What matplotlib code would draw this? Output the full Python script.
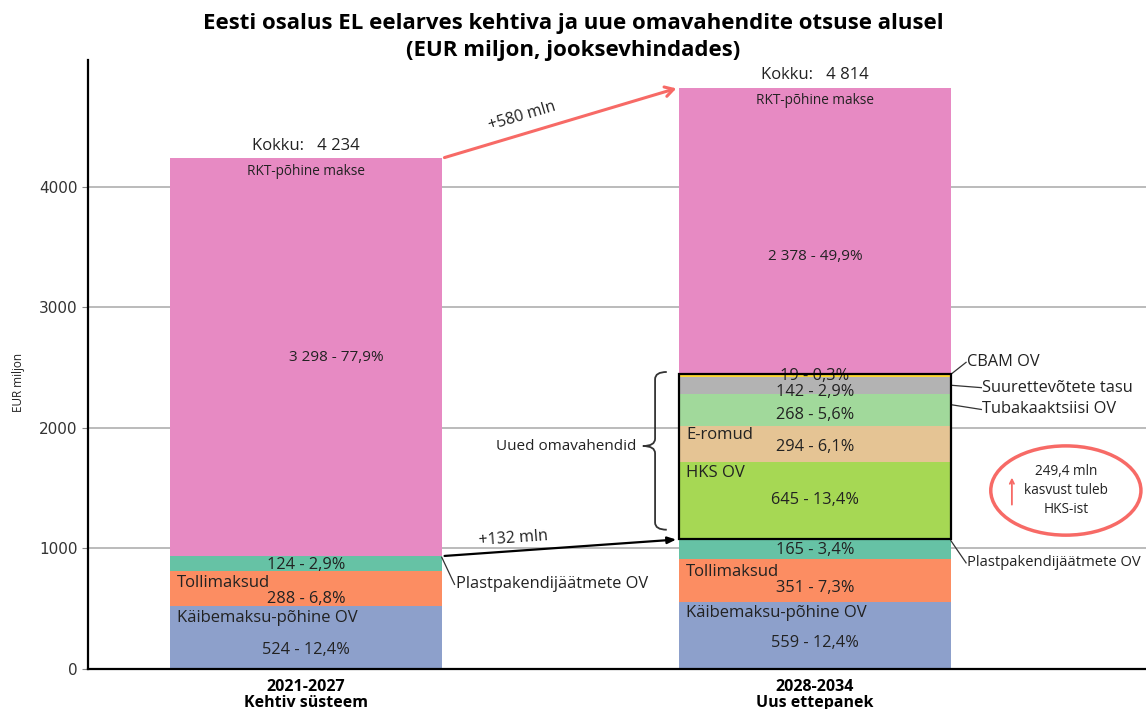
import math
import matplotlib
matplotlib.use("Agg")
import matplotlib.pyplot as plt
from matplotlib.patches import Rectangle, Ellipse, PathPatch
from matplotlib.path import Path

plt.rcParams['font.family'] = ['Open Sans', 'DejaVu Sans']

periods = ["2021-2027\nKehtiv süsteem", "2028-2034\nUus ettepanek"]
totals = [4234, 4814]

# segments bottom -> top
vat = [524, 559]
customs = [288, 351]
plastic = [124, 165]
ets = [0, 645]
ewaste = [0, 294]
tobacco = [0, 268]
corporate = [0, 142]
cbam = [0, 19]
gni = [3298, 2378]

vat_pct = [12.4, 12.4]
customs_pct = [6.8, 7.3]
plastic_pct = [2.9, 3.4]
ets_pct = [0, 13.4]
ewaste_pct = [0, 6.1]
tobacco_pct = [0, 5.6]
corporate_pct = [0, 2.9]
cbam_pct = [0, 0.3]
gni_pct = [77.9, 49.9]

growth_total = 580
growth_base = 132
ets_growth = 249.4

series = [
    ("Käibemaksu-põhine OV", vat, vat_pct, "#8da0cb"),
    ("Tollimaksud", customs, customs_pct, "#fc8d62"),
    ("Plastpakendijäätmete OV", plastic, plastic_pct, "#66c2a5"),
    ("HKS OV", ets, ets_pct, "#a6d854"),
    ("E-romud", ewaste, ewaste_pct, "#e5c494"),
    ("Tubakaaktsiisi OV", tobacco, tobacco_pct, "#a1d99b"),
    ("Suurettevõtete tasu", corporate, corporate_pct, "#b3b3b3"),
    ("CBAM OV", cbam, cbam_pct, "#ffd92f"),
    ("RKT-põhine makse", gni, gni_pct, "#e78ac3"),
]

# where to put the value label / name label inside each segment (fraction of height)
value_pos = {
    "Käibemaksu-põhine OV": [0.3, 0.39],
    "Tollimaksud": [0.2, 0.31],
    "Plastpakendijäätmete OV": [0.4, 0.45],
    "HKS OV": [0.5, 0.5],
    "E-romud": [0.42, 0.42],
    "Tubakaaktsiisi OV": [0.35, 0.35],
    "Suurettevõtete tasu": [0.12, 0.12],
    "CBAM OV": [0.5, 0.5],
    "RKT-põhine makse": [0.5, 0.41],
}
name_pos = {
    "Käibemaksu-põhine OV": [0.8, 0.83],
    "Tollimaksud": [0.65, 0.71],
    "HKS OV": [0.85, 0.85],
    "E-romud": [0.75, 0.75],
}


def num(v):
    return f"{v:,}".replace(",", " ")


def pct(p):
    return f"{p:.1f}".replace(".", ",") + "%"


fig = plt.figure(figsize=(11.46, 7.09), dpi=100)
ax = fig.add_axes([0.0768, 0.0564, 0.923, 0.859])

x = [0, 1]
w = 0.534
text_c = "#222222"

bottoms = [0, 0]
seg_bounds = {}
for name, vals, pcts, col in series:
    ax.bar(x, vals, width=w, bottom=bottoms, color=col, zorder=2)
    for i in range(2):
        if vals[i] == 0:
            continue
        b, h = bottoms[i], vals[i]
        seg_bounds[(name, i)] = (b, b + h)
        is_gni = name == "RKT-põhine makse"
        dx = 0.06 if (is_gni and i == 0) else 0
        ax.text(x[i] + dx, b + h * value_pos[name][i], f"{num(vals[i])} - {pct(pcts[i])}",
                ha="center", va="center", fontsize=11 if is_gni else 11.8,
                color=text_c, zorder=5)
        if name in name_pos:
            ax.text(x[i] - w / 2 + 0.014, b + h * name_pos[name][i], name,
                    ha="left", va="center", fontsize=12, color=text_c, zorder=5)
        if is_gni:
            ax.text(x[i], b + h - 110, name, ha="center", va="center",
                    fontsize=9.8, color=text_c, zorder=5)
    bottoms = [bottoms[i] + vals[i] for i in range(2)]

tops = bottoms
for i in range(2):
    ax.text(x[i], tops[i] + 40, f"Kokku:   {num(totals[i])}", ha="center", va="bottom",
            fontsize=12, color=text_c)

# box around the new own resources
new_lo = seg_bounds[("HKS OV", 1)][0]
new_hi = seg_bounds[("CBAM OV", 1)][1]
ax.add_patch(Rectangle((x[1] - w / 2, new_lo), w, new_hi - new_lo, fill=False,
                       edgecolor="black", linewidth=1.6, zorder=6))

# brace
bx_end, bx_mid, bx_tip = 0.709, 0.686, 0.662
y_lo, y_hi = new_lo + 80, new_hi + 20
y_m = (y_lo + y_hi) / 2 + 40
d = 60
verts = [(bx_end, y_hi), (bx_mid, y_hi), (bx_mid, y_hi - d),
         (bx_mid, y_m + d), (bx_mid, y_m), (bx_tip, y_m),
         (bx_mid, y_m), (bx_mid, y_m - d),
         (bx_mid, y_lo + d), (bx_mid, y_lo), (bx_end, y_lo)]
codes = [Path.MOVETO, Path.CURVE3, Path.CURVE3,
         Path.LINETO, Path.CURVE3, Path.CURVE3,
         Path.CURVE3, Path.CURVE3,
         Path.LINETO, Path.CURVE3, Path.CURVE3]
ax.add_patch(PathPatch(Path(verts, codes), fill=False, edgecolor="#333333", linewidth=1.3, zorder=4))
ax.text(bx_tip - 0.012, y_m, "Uued omavahendid", ha="right", va="center", fontsize=11, color=text_c)

# callouts on the right
x1r = x[0] + w / 2
x2r = x[1] + w / 2
lc = "#333333"


def callout(x0, y0, x1, y1, label, size=11.8):
    ax.plot([x0, x1], [y0, y1], color=lc, linewidth=0.9, zorder=4, clip_on=False)
    ax.text(x1 + 0.002, y1, label, ha="left", va="center", fontsize=size, color=text_c)


callout(x2r, new_hi, x2r + 0.03, new_hi + 100, "CBAM OV")
s = seg_bounds[("Suurettevõtete tasu", 1)]
callout(x2r, (s[0] + s[1]) / 2, x2r + 0.06, (s[0] + s[1]) / 2 - 20, "Suurettevõtete tasu")
s = seg_bounds[("Tubakaaktsiisi OV", 1)]
callout(x2r, s[1] - 90, x2r + 0.06, s[1] - 130, "Tubakaaktsiisi OV")
s = seg_bounds[("Plastpakendijäätmete OV", 1)]
callout(x2r, s[1] - 10, x2r + 0.03, s[0] - 30, "Plastpakendijäätmete OV", size=10.6)
s = seg_bounds[("Plastpakendijäätmete OV", 0)]
callout(x1r, s[1] - 10, x1r + 0.025, s[0] - 110, "Plastpakendijäätmete OV")

ax.set_xlim(-0.428, 1.65)
ax.set_ylim(0, 5050)

# growth arrows
red = "#f76a66"


def angle(p0, p1):
    a = ax.transData.transform(p0)
    b = ax.transData.transform(p1)
    return math.degrees(math.atan2(b[1] - a[1], b[0] - a[0]))


p0, p1 = (x1r, tops[0]), (x[1] - w / 2, tops[1])
ax.annotate("", xy=p1, xytext=p0,
            arrowprops=dict(arrowstyle="->,head_length=0.6,head_width=0.35", color=red, lw=2.2))
ax.text(0.43, tops[0] + (tops[1] - tops[0]) * 0.33 + 90, f"+{growth_total} mln",
        rotation=angle(p0, p1), ha="center", va="bottom", fontsize=11.5, color=text_c,
        rotation_mode="anchor")

base0 = seg_bounds[("Plastpakendijäätmete OV", 0)][1]
q0, q1 = (x1r, base0), (x[1] - w / 2, new_lo)
ax.annotate("", xy=q1, xytext=q0,
            arrowprops=dict(arrowstyle="-|>,head_length=0.5,head_width=0.2", color="black", lw=1.6))
ax.text(0.34, base0 + 60, f"+{growth_base} mln", rotation=angle(q0, q1),
        ha="left", va="bottom", fontsize=11.5, color=text_c, rotation_mode="anchor")

# HKS note
ell_x, ell_y = 1.493, 1480
ax.add_patch(Ellipse((ell_x, ell_y), 0.295, 740, fill=False, edgecolor=red, linewidth=2.5, zorder=4))
ax.text(ell_x, ell_y, f"{str(ets_growth).replace('.', ',')} mln\nkasvust tuleb\nHKS-ist",
        ha="center", va="center", multialignment="center", fontsize=9.8,
        color=text_c, linespacing=1.35)
ax.annotate("", xy=(1.387, 1610), xytext=(1.387, 1340),
            arrowprops=dict(arrowstyle="->,head_length=0.3,head_width=0.15", color=red, lw=1.3))

# axes styling
ax.set_xticks(x)
ax.set_xticklabels(periods, fontsize=11.5, fontweight="bold", color="black", linespacing=1.0)
ax.tick_params(axis="x", length=0, pad=7)
ax.set_yticks([0, 1000, 2000, 3000, 4000])
ax.set_yticklabels(["0", "1000", "2000", "3000", "4000"], family="DejaVu Sans")
ax.tick_params(axis="y", labelsize=11, labelcolor="#333333", color="#888888", length=4)
ax.yaxis.grid(True, color="#bbbbbb", linewidth=1.4, zorder=0)
ax.set_axisbelow(True)
ax.set_ylabel("EUR miljon", fontsize=8.5, color=text_c)
ax.yaxis.set_label_coords(-0.06, 0.47)
for sp in ["top", "right"]:
    ax.spines[sp].set_visible(False)
ax.spines["left"].set_color("black")
ax.spines["left"].set_linewidth(1.6)
ax.spines["bottom"].set_color("black")
ax.spines["bottom"].set_linewidth(1.6)

fig.text(0.5, 0.948, "Eesti osalus EL eelarves kehtiva ja uue omavahendite otsuse alusel\n"
         "(EUR miljon, jooksevhindades)", ha="center", va="center", fontsize=16,
         fontweight="bold", linespacing=1.35)

fig.savefig("out.png", dpi=100)
